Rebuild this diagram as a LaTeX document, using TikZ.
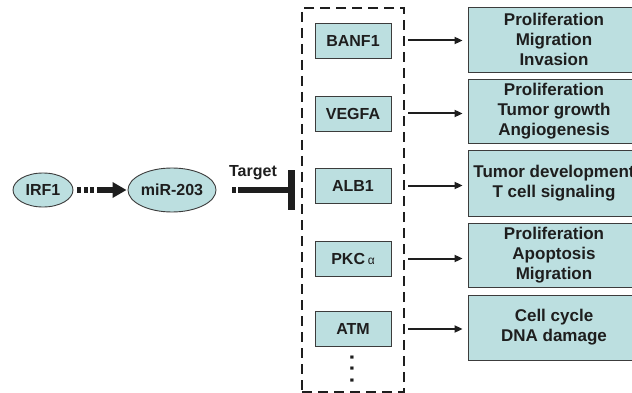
\documentclass[tikz,border=0pt]{standalone}
\usepackage{fontspec}
\setmainfont{Liberation Sans}
\usetikzlibrary{arrows.meta,shapes.geometric}
\definecolor{cellfill}{HTML}{BCDFE0}
\definecolor{edge}{HTML}{3C3C3C}
\definecolor{ink}{HTML}{1E1E1E}
\tikzset{
  x=1pt,y=-1pt,
  every node/.style={text=ink,font=\fontsize{16}{19.5}\selectfont\bfseries,inner sep=0pt},
  genebox/.style={draw=edge,line width=0.9pt,fill=cellfill,minimum width=76pt,minimum height=35pt},
  effbox/.style={draw=edge,line width=0.9pt,fill=cellfill,minimum width=172pt,align=center,
    font=\fontsize{17}{20}\selectfont\bfseries},
  oval/.style={ellipse,draw=edge,line width=0.9pt,fill=cellfill},
  dashbox/.style={draw=ink,line width=2.4pt,dash pattern=on 10pt off 6pt,minimum width=102pt,minimum height=384pt},
  thinarrow/.style={draw=ink,line width=2pt,-{Triangle[length=8pt,width=7pt]}},
  thick line/.style={draw=ink,line width=5.5pt},
}
\begin{document}
\begin{tikzpicture}
\clip (0,0) rectangle (632,393);
\fill[white] (0,0) rectangle (632,393);
% left part
\node[oval,minimum width=60pt,minimum height=34pt] (irf) at (43,190) {IRF1};
\node[oval,minimum width=71pt,minimum height=44pt] (mir) at (172,190) {miR-203};
\draw[thick line,dash pattern=on 4pt off 2.5pt] ([xshift=4pt]irf.east) -- ([xshift=24pt]irf.east);
\draw[thick line,-{Triangle[length=14pt,width=15pt]}] ([xshift=24pt]irf.east) -- ([xshift=-1pt]mir.west);
\coordinate (tbar) at (291,190);
\draw[thick line,dash pattern=on 3.5pt off 2.5pt] ([xshift=16pt]mir.east) -- ([xshift=25pt]mir.east);
\draw[thick line] ([xshift=25pt]mir.east) -- (tbar);
\draw[draw=ink,line width=7pt] ([yshift=-19.5pt]tbar) -- ([yshift=19.5pt]tbar);
\node (tgt) at (253,173) {Target};
% group of targets
\node[dashbox] (grp) at (353,200) {};
\node[genebox] (g1) at (353,40.5) {BANF1};
\node[genebox] (g2) at (353,113.5) {VEGFA};
\node[genebox] (g3) at (353,185.5) {ALB1};
\node[genebox] (g4) at (353,258.5) {PKC\,{\mdseries\fontsize{12}{14}\selectfont α}};
\node[genebox] (g5) at (353,329) {ATM};
\node[rotate=-90,font=\fontsize{22}{22}\selectfont\bfseries] (dots) at (352,369) {.\hspace{5pt}.\hspace{5pt}.};
% effects
\node[effbox,minimum height=65pt] (e1) at (554,39.5) {Proliferation\\Migration\\Invasion};
\node[effbox,minimum height=64pt] (e2) at (554,111) {Proliferation\\Tumor growth\\Angiogenesis};
\node[effbox,minimum height=66pt] (e3) at (554,183) {Tumor development\\T cell signaling};
\node[effbox,minimum height=64pt] (e4) at (554,255) {Proliferation\\Apoptosis\\Migration};
\node[effbox,minimum height=65pt] (e5) at (554,327.5) {Cell cycle\\DNA damage};
\foreach \g/\e in {g1/e1,g2/e2,g3/e3,g4/e4,g5/e5}{
  \draw[thinarrow,shorten <=17pt,shorten >=5pt] (\g.east) -- (\g.east -| \e.west);
}
\end{tikzpicture}
\end{document}
